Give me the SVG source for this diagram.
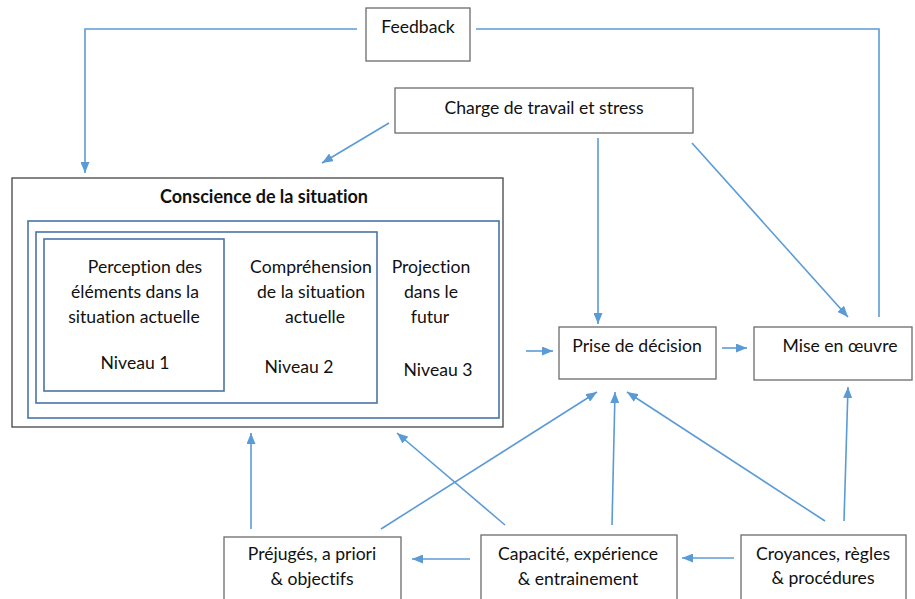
<svg xmlns="http://www.w3.org/2000/svg" width="915" height="599" viewBox="0 0 915 599">
<style>
text{font-family:Lato,"Liberation Sans",sans-serif;font-size:17.6px;fill:#111;text-anchor:middle;font-variant-ligatures:none;font-feature-settings:"liga" 0,"clig" 0}
.b{font-weight:bold;font-size:18px}
.box{fill:#fff;stroke:#6b6b6b;stroke-width:1.3}
.cs{fill:#fff;stroke:#444;stroke-width:1.3}
.lvl{fill:none;stroke:#4a74a4;stroke-width:1.6}
.c{fill:none;stroke:#5B9BD5;stroke-width:1.6}
.a{marker-end:url(#ah)}
</style>
<defs>
<marker id="ah" markerUnits="userSpaceOnUse" markerWidth="11" markerHeight="9" refX="11" refY="4.5" orient="auto">
<path d="M0,0 L11,4.5 L0,9 z" fill="#5B9BD5"/>
</marker>
</defs>
<rect width="915" height="599" fill="#fff"/>
<g id="connectors">
<path class="c a" d="M357,29 H85 V173"/>
<path class="c" d="M476,29 H879 V317"/>
<path class="c a" d="M389,123 L322,163"/>
<path class="c a" d="M598,138 V324"/>
<path class="c a" d="M692,143 L848,317"/>
<path class="c a" d="M526,351 H553"/>
<path class="c a" d="M722,348 H747"/>
<path class="c a" d="M470,559 H412"/>
<path class="c a" d="M734,558 H682"/>
<path class="c a" d="M251,529 V433"/>
<path class="c a" d="M505,525 L397,433"/>
<path class="c a" d="M381,529 L597,392"/>
<path class="c a" d="M612,525 L615,392"/>
<path class="c a" d="M825,521 L627,392"/>
<path class="c a" d="M844,521 L848,387"/>
</g>
<g id="feedback">
<rect class="box" x="366" y="8" width="104" height="53"/>
<text x="418" y="33">Feedback</text>
</g>
<g id="charge">
<rect class="box" x="395" y="88" width="298" height="45"/>
<text x="544" y="114">Charge de travail et stress</text>
</g>
<g id="conscience">
<rect class="cs" x="12" y="178" width="491" height="249"/>
<text class="b" x="264" y="203">Conscience de la situation</text>
<rect class="lvl" x="28" y="221" width="471" height="197"/>
<rect class="lvl" x="36" y="232" width="341" height="171"/>
<rect class="lvl" x="44" y="239" width="180" height="152"/>
</g>
<g id="niveau1">
<text x="145" y="273">Perception des</text>
<text x="135" y="298">éléments dans la</text>
<text x="134" y="323">situation actuelle</text>
<text x="135" y="369">Niveau 1</text>
</g>
<g id="niveau2">
<text x="311" y="273">Compréhension</text>
<text x="311" y="298">de la situation</text>
<text x="315" y="323">actuelle</text>
<text x="299" y="373">Niveau 2</text>
</g>
<g id="niveau3">
<text x="431" y="273">Projection</text>
<text x="431" y="298">dans le</text>
<text x="430" y="323">futur</text>
<text x="438" y="376">Niveau 3</text>
</g>
<g id="prise">
<rect class="box" x="559" y="327" width="157" height="52"/>
<text x="637" y="352">Prise de décision</text>
</g>
<g id="mise">
<rect class="box" x="754" y="327" width="158" height="53"/>
<text x="840" y="352">Mise en œuvre</text>
</g>
<g id="prejuges">
<rect class="box" x="224" y="537" width="177" height="64"/>
<text x="312" y="560">Préjugés, a priori</text>
<text x="312" y="585">&amp; objectifs</text>
</g>
<g id="capacite">
<rect class="box" x="481" y="535" width="196" height="66"/>
<text x="578" y="560">Capacité, expérience</text>
<text x="578" y="585">&amp; entrainement</text>
</g>
<g id="croyances">
<rect class="box" x="741" y="535" width="165" height="66"/>
<text x="823" y="560">Croyances, règles</text>
<text x="823" y="584">&amp; procédures</text>
</g>
</svg>
